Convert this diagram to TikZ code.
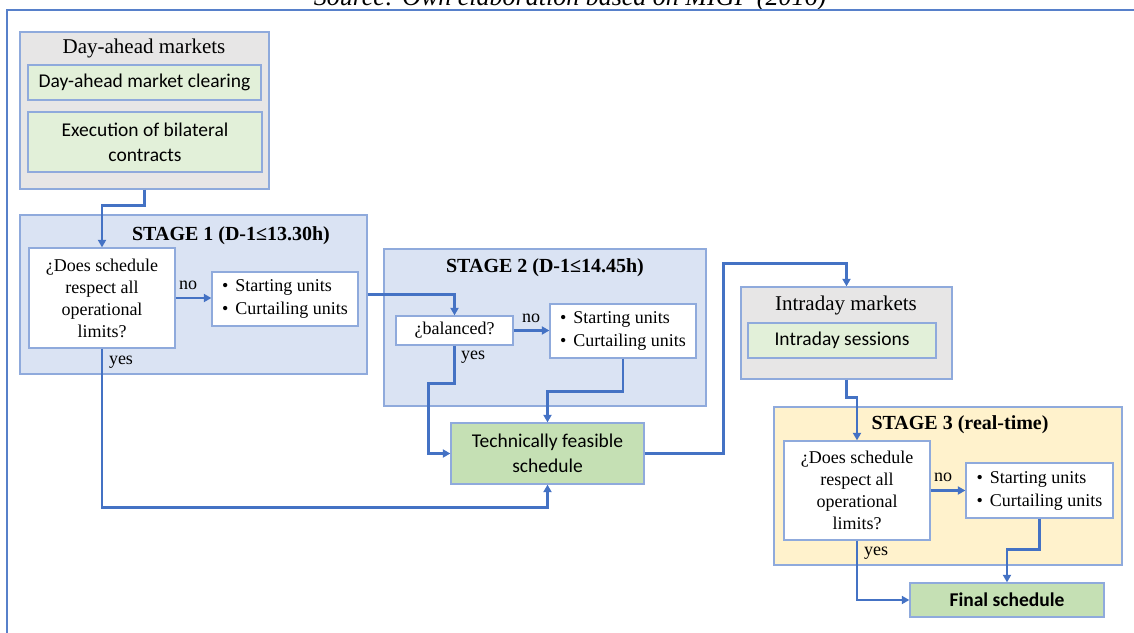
\documentclass[tikz,border=0pt]{standalone}
\usepackage{fontspec}
\setmainfont{Liberation Serif}
\newfontfamily\calib{Carlito}
\usetikzlibrary{arrows.meta,calc}
\definecolor{conn}{HTML}{4472C4}
\definecolor{bord}{HTML}{8FAADC}
\definecolor{grayf}{HTML}{E7E6E6}
\definecolor{bluef}{HTML}{DAE3F3}
\definecolor{yelf}{HTML}{FFF2CC}
\definecolor{greenl}{HTML}{E2F0D9}
\definecolor{greend}{HTML}{C5E0B4}
\tikzset{
  box/.style={draw=bord,line width=1.3pt,inner sep=0pt,rectangle},
  conn/.style={draw=conn,line width=2.8pt,-{Triangle[length=7.5pt,width=8pt]}},
  titlef/.style={font=\fontsize{21}{24}\selectfont},
  stagef/.style={font=\fontsize{20}{24}\selectfont\bfseries},
  qf/.style={font=\fontsize{18}{22}\selectfont,align=center},
  sf/.style={font=\calib\fontsize{19.5}{25}\selectfont,align=center},
  bf/.style={font=\fontsize{18}{23}\selectfont,align=left},
  lab/.style={font=\fontsize{18}{20}\selectfont,inner sep=0pt},
}
\newcommand{\bul}{{\fontsize{18}{18}\selectfont\textbullet}\hspace{7pt}}
\newcommand{\bx}[6]{% name, x1,y1,x2,y2, style
  \node[box,#6,minimum width=#4pt-#2pt,minimum height=#5pt-#3pt] (#1) at ({(#2+#4)/2},{(#3+#5)/2}) {};}
\begin{document}
\begin{tikzpicture}[x=1pt,y=-1pt]
\useasboundingbox (0,0) rectangle (1134,632);
\begin{scope}
\clip (0,0) rectangle (1134,632);
\node[font=\fontsize{26}{30}\selectfont\itshape,anchor=base,inner sep=0pt] (cap) at (570,5) {Source: Own elaboration based on MIGP (2016)};
\draw[conn!90,line width=2pt] (1140,10) -- (6.5,10) -- (6.5,640);
\end{scope}
% Day-ahead markets
\bx{da}{20}{32}{269}{189}{fill=grayf}
\node[titlef] (dat) at (144,48) {Day-ahead markets};
\bx{dac}{28}{65}{261}{100}{fill=greenl}
\node[sf] at (dac) {Day-ahead market clearing};
\bx{dab}{28}{112}{262}{172}{fill=greenl}
\node[sf] at (dab) {Execution of bilateral\\contracts};
% Stage 1
\bx{s1}{20}{215}{367}{374}{fill=bluef}
\node[stagef] (s1t) at (231,236) {STAGE 1 (D-1≤13.30h)};
\bx{q1}{29}{248}{175}{348}{fill=white}
\node[qf] at (q1) {¿Does schedule\\respect all\\operational\\limits?};
\bx{a1}{212}{272}{358}{326}{fill=white}
\node[bf] at (a1) {\bul Starting units\\\bul Curtailing units};
% Stage 2
\bx{s2}{384}{249}{706}{406}{fill=bluef}
\node[stagef] (s2t) at (545,268) {STAGE 2 (D-1≤14.45h)};
\bx{bal}{396}{316}{513}{345}{fill=white}
\node[qf] at (bal) {¿balanced?};
\bx{a2}{550}{304}{696}{358}{fill=white}
\node[bf] at (a2) {\bul Starting units\\\bul Curtailing units};
% TFS
\bx{tfs}{451}{423}{644}{484}{fill=greend}
\node[sf] at (tfs) {Technically feasible\\schedule};
% Intraday
\bx{im}{741}{287}{952}{379}{fill=grayf}
\node[titlef] (imt) at (846,305) {Intraday markets};
\bx{ims}{748}{323}{936}{358}{fill=greenl}
\node[sf] at (ims) {Intraday sessions};
% Stage 3
\bx{s3}{774}{407}{1122}{565}{fill=yelf}
\node[stagef] (s3t) at (960,425) {STAGE 3 (real-time)};
\bx{q3}{784}{441}{930}{540}{fill=white}
\node[qf] at (q3) {¿Does schedule\\respect all\\operational\\limits?};
\bx{a3}{966}{463}{1113}{518}{fill=white}
\node[bf] at (a3) {\bul Starting units\\\bul Curtailing units};
\bx{fin}{910}{583}{1104}{617}{fill=greend}
\node[sf,font=\calib\fontsize{19.5}{25}\selectfont\bfseries] at (fin) {Final schedule};
% connectors
\draw[conn] (da.south) -- ++(0,16) -| (q1.north);
\draw[conn] (q1.east) -- (q1.east -| a1.west);
\node[lab] (no1) at (188,285) {no};
\node[lab] (yes1) at (121,362) {yes};
\draw[conn] (s1.east) -| (bal.north);
\draw[conn] (bal.east) -- (bal.east -| a2.west);
\node[lab] (no2) at (531,318) {no};
\node[lab] (yes2) at (473,357) {yes};
\draw[conn] (bal.south) -- ++(0,38) -- ++(-26,0) |- (tfs.west);
\draw[conn] (a2.south) -- ++(0,33) -| (tfs.north);
\draw[conn] (q1.south) -- ++(0,159) -| (tfs.south);
\draw[conn] (tfs.east) -- ++(79,0) -- ++(0,-190) -| (im.north);
\draw[conn] (im.south) -- ++(0,18) -| (q3.north);
\draw[conn] (q3.east) -- (q3.east -| a3.west);
\node[lab] (no3) at (943,477) {no};
\node[lab] (yes3) at (876,553) {yes};
\draw[conn] (q3.south) |- (fin.west);
\draw[conn] (a3.south) -- ++(0,31) -| (fin.north);
\end{tikzpicture}
\end{document}
